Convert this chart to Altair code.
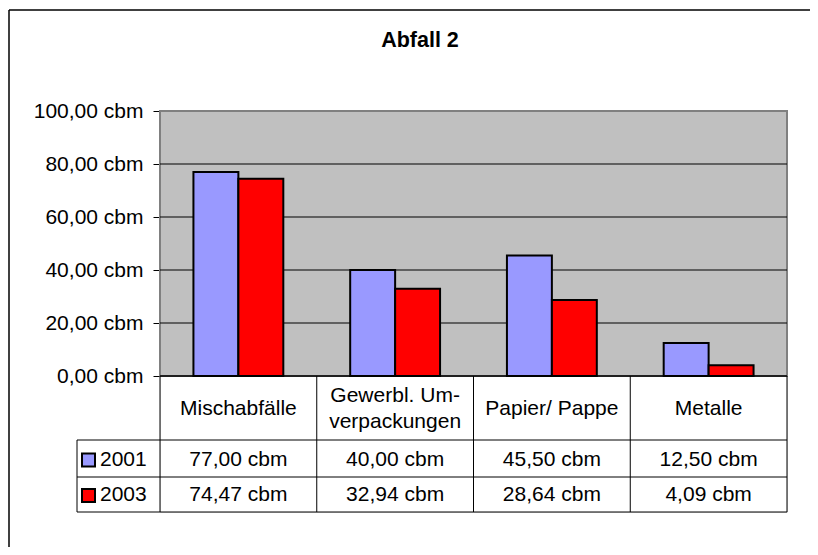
import altair as alt
import pandas as pd

# ---- data ----
categories = ["Mischabfälle", "Gewerbl. Umverpackungen", "Papier/ Pappe", "Metalle"]
category_labels = ["Mischabfälle", "Gewerbl. Um-\nverpackungen", "Papier/ Pappe", "Metalle"]
years = ["2001", "2003"]
values_2001 = [77.00, 40.00, 45.50, 12.50]
values_2003 = [74.47, 32.94, 28.64, 4.09]
y_ticks = [0, 20, 40, 60, 80, 100]
colors = ["#9999FF", "#FF0000"]
title_text = "Abfall 2"

FONT = "Liberation Sans"
FS = 21

rows = []
for y, vals in zip(years, [values_2001, values_2003]):
    for c, v in zip(categories, vals):
        rows.append({"cat": c, "year": y, "value": v})
df = pd.DataFrame(rows)
df["label"] = df["value"].map(lambda v: f"{v:.2f}".replace(".", ",") + " cbm")

df_cats = pd.DataFrame({"cat": categories, "label": category_labels})
df_cats["lines"] = df_cats["label"].map(lambda s: s.count("\n") + 1)
df_grid = pd.DataFrame({"value": [t for t in y_ticks if 0 < t < 100]})
dummy = pd.DataFrame({"a": [0]})

# ---- layout (pixels inside the plot group) ----
W, H = 627, 401
PLOT_H = 265
ROW_TOP = [329, 366, 401]
ROW_Y = [348.5, 384]
CAT_Y = 298
LINE_H = 26
LEG_X = -83

xscale = alt.Scale(domain=categories, paddingInner=0, paddingOuter=0)
yscale = alt.Scale(domain=[0, 100], range=[PLOT_H, 0], nice=False, zero=False)
cscale = alt.Scale(domain=years, range=colors)
yaxis = alt.Axis(
    values=y_ticks, title=None, grid=False,
    domain=True, domainColor="black", domainWidth=1.5,
    ticks=True, tickColor="black", tickSize=7, tickWidth=1,
    labelFont=FONT, labelFontSize=FS, labelColor="black", labelPadding=10,
    labelExpr="replace(format(datum.value, '.2f'), '.', ',') + ' cbm'",
)

layers = []

# outer chart border (top and left edges; right/bottom lie beyond the page)
layers.append(alt.Chart(dummy).mark_rule(color="black", strokeWidth=1.5).encode(
    x=alt.value(-151), x2=alt.value(700), y=alt.value(-101)))
layers.append(alt.Chart(dummy).mark_rule(color="black", strokeWidth=1.5).encode(
    x=alt.value(-151), y=alt.value(-101), y2=alt.value(500)))

# title
layers.append(alt.Chart(pd.DataFrame({"t": [title_text]})).mark_text(
    font=FONT, fontSize=21.5, fontWeight="bold", color="black", baseline="alphabetic", align="center").encode(
    x=alt.value(260), y=alt.value(-64), text="t:N"))

# plot background
layers.append(alt.Chart(dummy).mark_rect(fill="#C0C0C0", stroke="#808080", strokeWidth=2).encode(
    x=alt.value(0), x2=alt.value(W), y=alt.datum(100, scale=yscale), y2=alt.datum(0)))

# gridlines
layers.append(alt.Chart(df_grid).mark_rule(color="black", strokeWidth=1).encode(
    y=alt.Y("value:Q", scale=yscale, axis=yaxis)))

# bars
layers.append(alt.Chart(df).mark_bar(stroke="black", strokeWidth=2).encode(
    x=alt.X("cat:N", scale=xscale, axis=None),
    xOffset=alt.XOffset("year:N", scale=alt.Scale(domain=years, paddingInner=0, paddingOuter=0.744)),
    y=alt.Y("value:Q", scale=yscale, axis=yaxis),
    color=alt.Color("year:N", scale=cscale, legend=None),
))

# zero line
layers.append(alt.Chart(dummy).mark_rule(color="black", strokeWidth=1.5).encode(
    y=alt.datum(0), x=alt.value(0), x2=alt.value(W)))

# table horizontal lines
for ry in ROW_TOP:
    layers.append(alt.Chart(dummy).mark_rule(color="black", strokeWidth=1).encode(
        y=alt.value(ry), x=alt.value(LEG_X), x2=alt.value(W)))

# table vertical lines
layers.append(alt.Chart(df_cats).mark_rule(color="black", strokeWidth=1).encode(
    x=alt.X("cat:N", scale=xscale, bandPosition=0, axis=None),
    y=alt.value(PLOT_H), y2=alt.value(H)))
layers.append(alt.Chart(dummy).mark_rule(color="black", strokeWidth=1).encode(
    x=alt.value(W), y=alt.value(PLOT_H), y2=alt.value(H)))
layers.append(alt.Chart(dummy).mark_rule(color="black", strokeWidth=1).encode(
    x=alt.value(LEG_X), y=alt.value(ROW_TOP[0]), y2=alt.value(H)))

# category labels (single- and two-line)
for n in sorted(df_cats["lines"].unique()):
    sub = df_cats[df_cats["lines"] == n]
    layers.append(alt.Chart(sub).mark_text(
        font=FONT, fontSize=FS, color="black", lineBreak="\n", lineHeight=LINE_H, baseline="middle").encode(
        x=alt.X("cat:N", scale=xscale, axis=None),
        y=alt.value(CAT_Y - (n - 1) * LINE_H / 2), text="label:N"))

# value rows + legend keys
for i, yr in enumerate(years):
    sub = df[df["year"] == yr]
    layers.append(alt.Chart(sub).mark_text(
        font=FONT, fontSize=FS, color="black", baseline="middle").encode(
        x=alt.X("cat:N", scale=xscale, axis=None), y=alt.value(ROW_Y[i]), text="label:N"))
    layers.append(alt.Chart(pd.DataFrame({"year": [yr]})).mark_square(
        size=169, stroke="black", strokeWidth=2, opacity=1).encode(
        x=alt.value(-71.5), y=alt.value(ROW_Y[i] + 0.5),
        color=alt.Color("year:N", scale=cscale, legend=None)))
    layers.append(alt.Chart(pd.DataFrame({"year": [yr]})).mark_text(
        font=FONT, fontSize=FS, color="black", align="left", baseline="middle").encode(
        x=alt.value(-60), y=alt.value(ROW_Y[i]), text="year:N"))

chart = alt.layer(*layers).properties(
    width=W, height=H,
    autosize=alt.AutoSizeParams(type="none"),
    padding={"left": 152, "top": 103, "right": 23, "bottom": 35},
).configure_view(stroke=None).configure(background="white")

chart.save("out.html", embed_options={"renderer": "svg", "actions": False})
